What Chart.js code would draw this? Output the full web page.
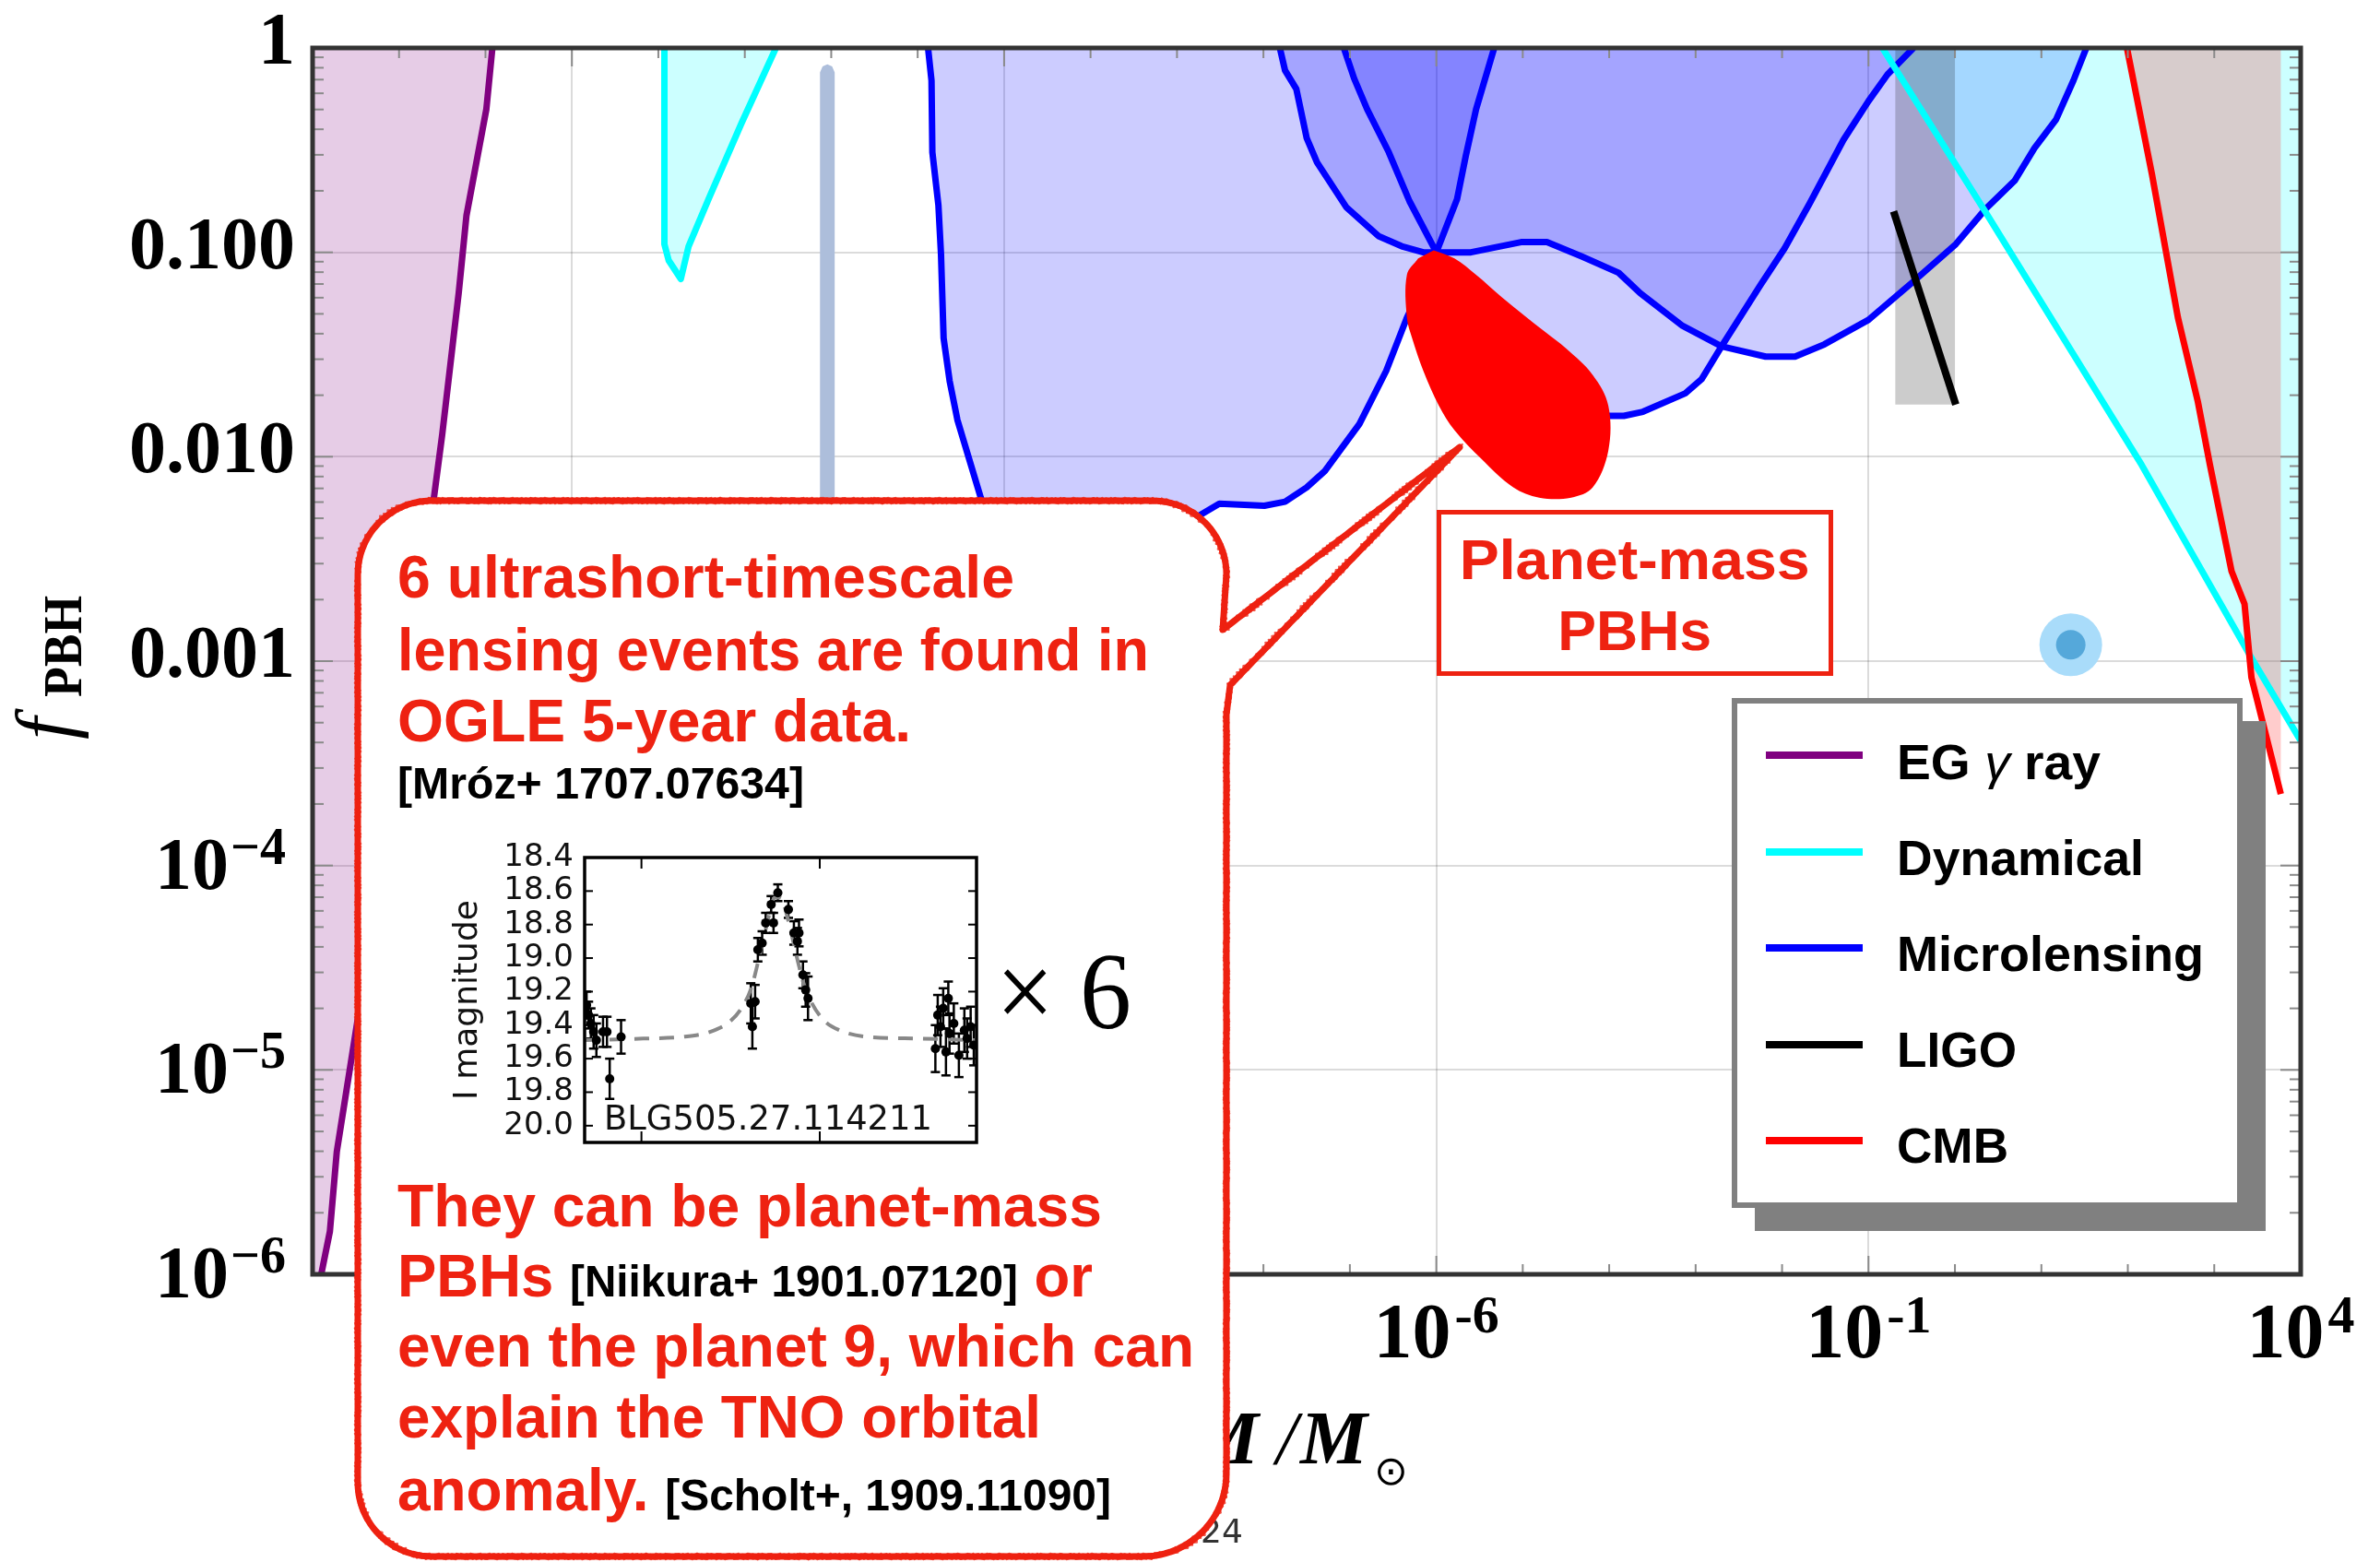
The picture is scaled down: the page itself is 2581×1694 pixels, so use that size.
<!DOCTYPE html>
<html>
<head>
<meta charset="utf-8">
<title>PBH abundance limits</title>
<script src="https://cdn.jsdelivr.net/npm/chart.js@4.4.1/dist/chart.umd.min.js"></script>
<style>
  html, body { margin: 0; padding: 0; background: #fff; }
  #stage { position: relative; width: 2581px; height: 1694px; overflow: hidden; }
  #stage canvas { position: absolute; }
  .txt { position: absolute; white-space: nowrap; line-height: 1; }
  #legendBox { position: absolute; box-sizing: border-box; background: #fff;
               border: 6px solid #808080; box-shadow: 25px 25px 0 #808080; }
  .swatch { position: absolute; height: 8px; }
</style>
</head>
<body>
<div id="stage">
  <canvas id="limits" width="2581" height="1694" style="left:0;top:0"></canvas>
  <canvas id="lightcurve" width="600" height="350" style="left:480px;top:900px"></canvas>
</div>
<script>
// all curves are stored as log10(M/Msun) and log10(f_PBH)
const egLogM = [-16.92, -16.99, -17.22, -17.31, -17.50, -17.59, -18.47, -18.72, -18.80, -18.90];
const egLogF = [0, -0.30, -0.82, -1.20, -1.89, -2.18, -4.73, -5.40, -5.79, -6.0];

const dynLeftLogM = [-14.93, -14.93, -14.88, -14.74, -14.65, -14.41, -14.04, -13.64];
const dynLeftLogF = [0, -0.96, -1.04, -1.13, -0.97, -0.73, -0.37, 0];
const dynRightLogM = [-0.84, 0.35, 2.16, 3.41, 4.0];
const dynRightLogF = [0, -0.80, -2.04, -2.97, -3.39];

const bandLogM = [-13.13, -13.13, -13.10, -13.045, -12.99, -12.96, -12.96];
const bandLogF = [-3.0, -0.12, -0.09, -0.08, -0.09, -0.12, -3.0];

const hscLogM = [-11.88, -11.84, -11.83, -11.76, -11.73, -11.70, -11.63, -11.54, -11.42, -11.27,
                 -11.10, -10.50, -9.80, -9.20, -8.79, -8.51, -7.99, -7.75, -7.50, -7.29,
                 -6.89, -6.58, -6.34, -6.15, -6.0, -5.76, -5.66, -5.54, -5.33];
const hscLogF = [0, -0.16, -0.51, -0.77, -1.01, -1.42, -1.63, -1.82, -1.99, -2.20,
                 -2.42, -2.55, -2.52, -2.42, -2.30, -2.23, -2.24, -2.22, -2.15, -2.07,
                 -1.84, -1.58, -1.32, -1.15, -1.0, -0.74, -0.53, -0.30, 0];

const ogleLogM = [-7.81, -7.75, -7.62, -7.50, -7.38, -7.04, -6.67, -6.40, -6.15, -6.0,
                  -5.60, -5.02, -4.72, -4.32, -3.89, -3.64, -3.15, -2.70, -2.19, -1.85,
                  -1.51, -1.0, -0.50, 0.01, 0.35, 0.69, 0.92, 1.17, 1.37, 1.52];
const ogleLogF = [0, -0.11, -0.20, -0.44, -0.56, -0.78, -0.92, -0.97, -1.0, -1.0,
                  -1.0, -0.95, -0.95, -1.02, -1.10, -1.20, -1.36, -1.46, -1.51, -1.51,
                  -1.45, -1.33, -1.15, -0.96, -0.79, -0.65, -0.49, -0.35, -0.16, 0];

const erosLogM = [-7.07, -6.95, -6.80, -6.55, -6.31, -6.0, -5.36, -4.74, -4.25, -4.01, -3.83,
                  -3.61, -3.12, -2.93, -2.70, -2.25, -1.97, -1.68, -1.29, -1.0, -0.78, -0.48];
const erosLogF = [0, -0.15, -0.30, -0.51, -0.75, -1.0, -1.23, -1.49, -1.72, -1.80, -1.80,
                  -1.78, -1.69, -1.62, -1.46, -1.16, -0.98, -0.76, -0.45, -0.26, -0.13, 0];

const ligoBandLogM = [-0.69, 0];
const ligoBandLogF = -1.745;
const ligoLogM = [-0.71, 0.01];
const ligoLogF = [-0.80, -1.745];

const cmbLogM = [1.99, 2.28, 2.58, 2.81, 2.95, 3.20, 3.35, 3.43, 3.77];
const cmbLogF = [0, -0.62, -1.32, -1.73, -2.04, -2.56, -2.72, -3.08, -3.65];
const cmbEdgeLogM = 3.77;

const planetLogM = [-6.03, -5.79, -5.54, -5.24, -4.74, -4.50, -4.19, -4.01, -4.01, -4.19, -4.44,
                    -4.81, -5.11, -5.48, -5.79, -5.97, -6.15, -6.28, -6.34, -6.34, -6.21];
const planetLogF = [-0.99, -1.03, -1.11, -1.22, -1.39, -1.47, -1.60, -1.75, -1.97, -2.15, -2.20,
                    -2.20, -2.15, -2.01, -1.87, -1.75, -1.58, -1.42, -1.32, -1.11, -1.03];

const dotLogM = 1.34;
const dotLogF = -2.92;

const legendNames = ['EG γ ray', 'Dynamical', 'Microlensing', 'LIGO', 'CMB'];
const legendColors = ['#800080', '#00ffff', '#0000ff', '#000000', '#ff0000'];

const yTickValues = [1, 0.1, 0.01, 0.001, 1e-4, 1e-5, 1e-6];
const yTickLabels = ['1', '0.100', '0.010', '0.001', '10^\u22124', '10^\u22125', '10^\u22126'];
const xTickValues = [1e-16, 1e-11, 1e-6, 1e-1, 1e4];
const xTickLabels = ['10^-16', '10^-11', '10^-6', '10^-1', '10^4'];

// OGLE light curve of BLG505.27.114211 (time in arbitrary days)
const lcTime = [0.5, 1.0, 1.6, 2.3, 3.0, 4.7, 5.7, 6.4, 9.3,
                42.4, 42.8, 43.5, 44.2, 45.3, 46.2, 47.6, 48.2, 49.3, 52.0, 53.4, 54.3, 54.7, 55.7, 56.4, 57.0,
                89.5, 90.1, 90.8, 91.5, 92.2, 92.8, 93.1, 94.2, 95.5, 96.9, 97.6, 98.5, 99.3];
const lcMag = [19.28, 19.34, 19.39, 19.44, 19.49, 19.44, 19.44, 19.72, 19.47,
               19.27, 19.41, 19.26, 18.95, 18.91, 18.79, 18.68, 18.79, 18.61, 18.71, 18.85, 18.90, 18.85, 19.10, 19.19, 19.24,
               19.54, 19.34, 19.41, 19.30, 19.56, 19.24, 19.45, 19.39, 19.58, 19.43, 19.48, 19.41, 19.52];
const lcErr = [0.08, 0.08, 0.09, 0.10, 0.10, 0.09, 0.09, 0.12, 0.10,
               0.12, 0.13, 0.10, 0.07, 0.07, 0.06, 0.05, 0.06, 0.05, 0.05, 0.07, 0.08, 0.08, 0.08, 0.10, 0.13,
               0.14, 0.12, 0.12, 0.12, 0.14, 0.10, 0.12, 0.12, 0.13, 0.13, 0.12, 0.12, 0.12];
const modelTime = [0, 15, 25, 32, 37, 40, 42.5, 44.5, 46.5, 48.5, 50, 52, 54, 56, 58, 61, 65, 72, 85, 100];
const modelMag = [19.49, 19.48, 19.47, 19.44, 19.38, 19.30, 19.18, 19.00, 18.80, 18.64, 18.64,
                  18.78, 18.98, 19.16, 19.27, 19.37, 19.43, 19.47, 19.48, 19.49];
const magTicks = [18.4, 18.6, 18.8, 19.0, 19.2, 19.4, 19.6, 19.8, 20.0];
const timeTicks = [14.5, 60];

const X0 = 1e-19, X1 = 1e4, Y0 = 1e-6, Y1 = 1;
const RED = '#ee2211';
const SERIF = '"Liberation Serif", "Times New Roman", serif';
const SANS = '"Liberation Sans", Arial, sans-serif';

const pts = (lm, lf) => lm.map((m, i) => ({ x: 10 ** m, y: 10 ** lf[i] }));

function area(data, color, order, extra) {
  return Object.assign({ data, showLine: true, fill: 'shape', backgroundColor: color,
    borderWidth: 0, pointRadius: 0, order }, extra || {});
}
function curve(data, color, order, width) {
  return { data, showLine: true, fill: false, borderColor: color, borderWidth: width || 7,
    pointRadius: 0, order, borderJoinStyle: 'round' };
}

const ligoBand = [
  { x: 10 ** ligoBandLogM[0], y: Y1 }, { x: 10 ** ligoBandLogM[0], y: 10 ** ligoBandLogF },
  { x: 10 ** ligoBandLogM[1], y: 10 ** ligoBandLogF }, { x: 10 ** ligoBandLogM[1], y: Y1 }
];

// higher order is painted first, so the tinted areas stack bottom-up: lensing, dynamical, LIGO/CMB
const datasets = [
  area(pts(bandLogM, bandLogF), '#adbedb', 12),
  area([...pts(egLogM, egLogF), { x: X0, y: Y0 }, { x: X0, y: Y1 }], 'rgba(128,0,128,0.2)', 11),
  area(pts(hscLogM, hscLogF), 'rgba(0,0,255,0.2)', 11),
  area(pts(ogleLogM, ogleLogF), 'rgba(0,0,255,0.2)', 11),
  area(pts(erosLogM, erosLogF), 'rgba(0,0,255,0.2)', 11),
  area(pts(dynLeftLogM, dynLeftLogF), 'rgba(0,255,255,0.2)', 10),
  area([...pts(dynRightLogM, dynRightLogF), { x: X1, y: Y1 }], 'rgba(0,255,255,0.2)', 10),
  area(ligoBand, 'rgba(0,0,0,0.2)', 9),
  area([...pts(cmbLogM, cmbLogF), { x: 10 ** cmbEdgeLogM, y: Y1 }], 'rgba(255,0,0,0.2)', 9),
  curve(pts(hscLogM, hscLogF), '#0000ff', 6),
  curve(pts(ogleLogM, ogleLogF), '#0000ff', 6),
  curve(pts(erosLogM, erosLogF), '#0000ff', 6),
  curve(pts(egLogM, egLogF), '#800080', 6),
  curve(pts(dynLeftLogM, dynLeftLogF), '#00ffff', 5),
  curve(pts(dynRightLogM, dynRightLogF), '#00ffff', 5),
  curve(pts(cmbLogM, cmbLogF), '#ff0000', 4),
  curve(pts(ligoLogM, ligoLogF), '#000000', 3, 8),
  area(pts(planetLogM, planetLogF), '#ff0000', 2, { tension: 0.35 }),
  { data: [{ x: 10 ** dotLogM, y: 10 ** dotLogF }], pointRadius: 34, pointBackgroundColor: '#a9dcfa',
    pointBorderWidth: 0, order: 1 },
  { data: [{ x: 10 ** dotLogM, y: 10 ** dotLogF }], pointRadius: 16, pointBackgroundColor: '#55a8da',
    pointBorderWidth: 0, order: 0 }
];

function seg(ctx, x0, y0, x1, y1) {
  ctx.beginPath(); ctx.moveTo(x0, y0); ctx.lineTo(x1, y1); ctx.stroke();
}

// outline of the speech bubble, sampled so it can be stroked with a chalky edge
function bubbleOutline() {
  const L = 388, T = 543, R = 1330, B = 1688;
  const out = [];
  const line = (x0, y0, x1, y1) => {
    const n = Math.max(1, Math.round(Math.hypot(x1 - x0, y1 - y0) / 5));
    for (let i = 0; i < n; i++) out.push([x0 + (x1 - x0) * i / n, y0 + (y1 - y0) * i / n]);
  };
  const arc = (cx, cy, r, a0, a1) => {
    for (let i = 0; i < 24; i++) {
      const a = a0 + (a1 - a0) * i / 24;
      out.push([cx + r * Math.cos(a), cy + r * Math.sin(a)]);
    }
  };
  arc(L + 80, T + 80, 80, Math.PI, 1.5 * Math.PI);
  line(L + 80, T, R - 80, T);
  arc(R - 80, T + 80, 80, 1.5 * Math.PI, 2 * Math.PI);
  line(R, T + 80, R - 4, 683);
  line(R - 4, 683, 1583, 485);
  line(1583, 485, 1334, 743);
  line(1334, 743, R, 775);
  line(R, 775, R, B - 90);
  arc(R - 90, B - 90, 90, 0, 0.5 * Math.PI);
  line(R - 90, B, L + 80, B);
  arc(L + 80, B - 80, 80, 0.5 * Math.PI, Math.PI);
  line(L, B - 80, L, T + 80);
  return out;
}

function drawBubble(ctx) {
  const p = bubbleOutline();
  ctx.save();
  ctx.beginPath();
  p.forEach(([x, y], i) => (i ? ctx.lineTo(x, y) : ctx.moveTo(x, y)));
  ctx.closePath();
  ctx.fillStyle = '#fff';
  ctx.fill();
  ctx.strokeStyle = RED;
  ctx.lineJoin = 'round';
  ctx.lineWidth = 7;
  ctx.stroke();
  ctx.lineWidth = 2.2;
  for (let k = 0; k < 4; k++) {
    ctx.globalAlpha = 0.75;
    ctx.beginPath();
    p.forEach(([x, y], i) => {
      const dx = 3.2 * Math.sin(i * 2.3 + k * 1.9);
      const dy = 3.2 * Math.cos(i * 1.7 + k * 2.6);
      i ? ctx.lineTo(x + dx, y + dy) : ctx.moveTo(x + dx, y + dy);
    });
    ctx.closePath();
    ctx.stroke();
  }
  ctx.restore();
}

const frameDecor = {
  id: 'frameDecor',
  afterDatasetsDraw(chart) {
    const { ctx, chartArea: a, scales: { x, y } } = chart;
    ctx.save();
    ctx.strokeStyle = '#8a8a8a';
    ctx.lineWidth = 2;
    for (let e = -18; e <= 3; e++) {
      const px = x.getPixelForValue(10 ** e);
      const len = (e + 16) % 5 === 0 ? 20 : 11;
      seg(ctx, px, a.top, px, a.top + len);
      seg(ctx, px, a.bottom, px, a.bottom - len);
    }
    for (let e = -6; e < 0; e++) {
      for (let m = 1; m < 10; m++) {
        const py = y.getPixelForValue(m * 10 ** e);
        const len = m === 1 ? 22 : 12;
        seg(ctx, a.left, py, a.left + len, py);
        seg(ctx, a.right, py, a.right - len, py);
      }
    }
    ctx.strokeStyle = '#333';
    ctx.lineWidth = 5;
    ctx.strokeRect(a.left, a.top, a.width, a.height);
    ctx.restore();
  },
  afterDraw(chart) {
    const { ctx, chartArea: a, scales: { x, y } } = chart;
    ctx.save();
    ctx.fillStyle = '#000';
    ctx.textBaseline = 'alphabetic';

    // y tick labels
    yTickValues.forEach((v, i) => {
      const py = y.getPixelForValue(v);
      const [base, exp] = yTickLabels[i].split('^');
      ctx.font = 'bold 80px ' + SERIF;
      ctx.textAlign = 'right';
      if (!exp) {
        ctx.fillText(base, 320, py + 17);
      } else {
        ctx.fillText(base, 248, py + 25);
        ctx.font = 'bold 56px ' + SERIF;
        ctx.textAlign = 'left';
        ctx.fillText(exp, 250, py - 2);
      }
    });

    // x tick labels
    xTickValues.forEach((v, i) => {
      const px = x.getPixelForValue(v);
      const [base, exp] = xTickLabels[i].split('^');
      ctx.textAlign = 'left';
      ctx.font = 'bold 84px ' + SERIF;
      const wb = ctx.measureText(base).width;
      ctx.font = 'bold 58px ' + SERIF;
      const we = ctx.measureText(exp).width;
      const x0 = px - (wb + 4 + we) / 2;
      ctx.fillText(exp, x0 + wb + 4, a.bottom + 63);
      ctx.font = 'bold 84px ' + SERIF;
      ctx.fillText(base, x0, a.bottom + 90);
    });

    // axis titles
    ctx.textAlign = 'left';
    ctx.font = 'italic bold 82px ' + SERIF;
    ctx.fillText('M', 1292, 1587);
    ctx.font = 'italic 82px ' + SERIF;
    ctx.fillText('/', 1384, 1587);
    ctx.font = 'italic bold 82px ' + SERIF;
    ctx.fillText('M', 1410, 1587);
    ctx.font = '44px "DejaVu Sans"';
    ctx.fillText('\u2299', 1490, 1610);

    ctx.save();
    ctx.translate(77, 802);
    ctx.rotate(-Math.PI / 2);
    ctx.font = 'italic 86px ' + SERIF;
    ctx.fillText('f', 0, 0);
    ctx.font = 'bold 60px ' + SERIF;
    const wp = ctx.measureText('PBH').width;
    ctx.save();
    ctx.translate(46, 11);
    ctx.scale(110 / wp, 1);
    ctx.fillText('PBH', 0, 0);
    ctx.restore();
    ctx.restore();

    // slide number
    ctx.fillStyle = '#333';
    ctx.font = '36px "DejaVu Sans"';
    ctx.fillText('24', 1302, 1673);

    // planet-mass label frame
    ctx.fillStyle = '#fff';
    ctx.fillRect(1558, 553, 430, 180);
    ctx.strokeStyle = RED;
    ctx.lineWidth = 5;
    ctx.strokeRect(1560.5, 555.5, 425, 175);
    ctx.restore();

    drawBubble(ctx);
  }
};

new Chart(document.getElementById('limits'), {
  type: 'scatter',
  data: { datasets },
  options: {
    responsive: false,
    animation: false,
    devicePixelRatio: 1,
    layout: { padding: { left: 339, top: 52, right: 86, bottom: 312 } },
    plugins: { legend: { display: false }, tooltip: { enabled: false } },
    scales: {
      x: {
        type: 'logarithmic', min: X0, max: X1,
        border: { display: false },
        grid: { color: 'rgba(0,0,0,0.14)', lineWidth: 2, drawTicks: false },
        ticks: { display: false },
        afterBuildTicks: s => { s.ticks = xTickValues.map(v => ({ value: v })); },
        afterFit: s => { s.height = 0; }
      },
      y: {
        type: 'logarithmic', min: Y0, max: Y1,
        border: { display: false },
        grid: { color: 'rgba(0,0,0,0.14)', lineWidth: 2, drawTicks: false },
        ticks: { display: false },
        afterBuildTicks: s => { s.ticks = yTickValues.map(v => ({ value: v })); },
        afterFit: s => { s.width = 0; }
      }
    }
  },
  plugins: [frameDecor]
});

// inset light curve
const lightcurveDecor = {
  id: 'lightcurveDecor',
  beforeDatasetsDraw(chart) {
    const { ctx, chartArea: a, scales: { x, y } } = chart;
    ctx.save();
    ctx.beginPath();
    ctx.rect(a.left, a.top, a.width, a.height);
    ctx.clip();
    ctx.strokeStyle = '#000';
    ctx.lineWidth = 2.5;
    lcTime.forEach((t, i) => {
      const px = x.getPixelForValue(t);
      const y0 = y.getPixelForValue(lcMag[i] - lcErr[i]);
      const y1 = y.getPixelForValue(lcMag[i] + lcErr[i]);
      seg(ctx, px, y0, px, y1);
      seg(ctx, px - 5, y0, px + 5, y0);
      seg(ctx, px - 5, y1, px + 5, y1);
    });
    ctx.restore();
  },
  afterDatasetsDraw(chart) {
    const { ctx, chartArea: a, scales: { x, y } } = chart;
    ctx.save();
    ctx.strokeStyle = '#000';
    ctx.lineWidth = 2;
    magTicks.forEach(v => {
      const py = y.getPixelForValue(v);
      seg(ctx, a.left, py, a.left + 9, py);
      seg(ctx, a.right, py, a.right - 9, py);
    });
    timeTicks.forEach(t => {
      const px = x.getPixelForValue(t);
      seg(ctx, px, a.top, px, a.top + 12);
      seg(ctx, px, a.bottom, px, a.bottom - 12);
    });
    ctx.lineWidth = 3.5;
    ctx.strokeRect(a.left, a.top, a.width, a.height);
    ctx.restore();
  }
};

new Chart(document.getElementById('lightcurve'), {
  type: 'scatter',
  data: {
    datasets: [
      { data: lcTime.map((t, i) => ({ x: t, y: lcMag[i] })), pointRadius: 5,
        pointBackgroundColor: '#000', pointBorderWidth: 0, order: 0 },
      { data: modelTime.map((t, i) => ({ x: t, y: modelMag[i] })), showLine: true, pointRadius: 0,
        borderColor: '#888', borderWidth: 4, borderDash: [16, 11],
        cubicInterpolationMode: 'monotone', order: 1 }
    ]
  },
  options: {
    responsive: false,
    animation: false,
    devicePixelRatio: 1,
    layout: { padding: { left: 0, top: 30, right: 21, bottom: 11 } },
    plugins: { legend: { display: false }, tooltip: { enabled: false } },
    scales: {
      x: { type: 'linear', min: 0, max: 100, display: false },
      y: {
        type: 'linear', min: 18.4, max: 20.1, reverse: true,
        grid: { display: false, drawTicks: false },
        border: { display: false },
        afterBuildTicks: s => { s.ticks = magTicks.map(v => ({ value: v })); },
        afterFit: s => { s.width = 154; s.paddingTop = 0; s.paddingBottom = 0; },
        ticks: { padding: 12, color: '#111', autoSkip: false,
                 font: { family: 'DejaVu Sans', size: 34 }, callback: v => v.toFixed(1) },
        title: { display: true, text: 'I magnitude', color: '#111',
                 font: { family: 'DejaVu Sans', size: 36 }, padding: { top: 6, bottom: 0 } }
      }
    }
  },
  plugins: [lightcurveDecor]
});

// text overlays
const stage = document.getElementById('stage');

function label(parts, x, baseline, size, width, align) {
  const el = document.createElement('div');
  el.className = 'txt';
  el.style.font = parts[0].font;
  el.style.lineHeight = '1';
  parts.forEach(p => {
    const s = document.createElement('span');
    s.textContent = p.text;
    s.style.font = p.font;
    s.style.lineHeight = '1';
    s.style.color = p.color || '#000';
    el.appendChild(s);
  });
  el.style.top = (baseline - 0.845 * size) + 'px';
  el.style.left = x + 'px';
  stage.appendChild(el);
  const w = el.getBoundingClientRect().width;
  if (align === 'center') {
    el.style.left = (x - w / 2) + 'px';
    el.style.transformOrigin = 'center';
  } else {
    el.style.transformOrigin = 'left';
  }
  if (width) el.style.transform = 'scaleX(' + (width / w).toFixed(4) + ')';
  return el;
}

const big = 'bold 64px ' + SANS;
const ref = 'bold 48px ' + SANS;
label([{ text: '6 ultrashort-timescale', font: big, color: RED }], 431, 648, 64, 669);
label([{ text: 'lensing events are found in', font: big, color: RED }], 431, 727, 64, 815);
label([{ text: 'OGLE 5-year data.', font: big, color: RED }], 431, 804, 64, 557);
label([{ text: '[Mróz+ 1707.07634]', font: ref }], 431, 867, 48, 441);
label([{ text: 'They can be planet-mass', font: big, color: RED }], 431, 1330, 64, 764);
label([{ text: 'PBHs ', font: big, color: RED }, { text: '[Niikura+ 1901.07120]', font: ref },
       { text: ' or', font: big, color: RED }], 431, 1406, 64, 754);
label([{ text: 'even the planet 9, which can', font: big, color: RED }], 431, 1482, 64, 864);
label([{ text: 'explain the TNO orbital', font: big, color: RED }], 431, 1559, 64, 698);
label([{ text: 'anomaly. ', font: big, color: RED }, { text: '[Scholt+, 1909.11090]', font: ref }],
      431, 1638, 64, 774);

label([{ text: 'BLG505.27.114211', font: '37px "DejaVu Sans"', color: '#111' }], 655, 1225, 37, 356);
label([{ text: '\u00d7 6', font: '118px ' + SERIF }], 1080, 1117, 118, 147);

label([{ text: 'Planet-mass', font: 'bold 62px ' + SANS, color: RED }], 1773, 628, 62, 380, 'center');
label([{ text: 'PBHs', font: 'bold 62px ' + SANS, color: RED }], 1773, 705, 62, 167, 'center');

// legend
const box = document.createElement('div');
box.id = 'legendBox';
Object.assign(box.style, { left: '1878px', top: '757px', width: '554px', height: '553px' });
stage.appendChild(box);
const legendWidths = [221, 268, 333, 130, 121];
legendNames.forEach((name, i) => {
  const sw = document.createElement('div');
  sw.className = 'swatch';
  Object.assign(sw.style, { left: '1915px', width: '105px', top: (815 + i * 104.5) + 'px',
                            background: legendColors[i] });
  stage.appendChild(sw);
  const parts = name.split(/(γ)/).filter(Boolean).map(t => ({
    text: t, font: t === 'γ' ? 'italic 53px ' + SANS : 'bold 53px ' + SANS
  }));
  label(parts, 2057, 845 + i * 104, 53, legendWidths[i]);
});
</script>
</body>
</html>
